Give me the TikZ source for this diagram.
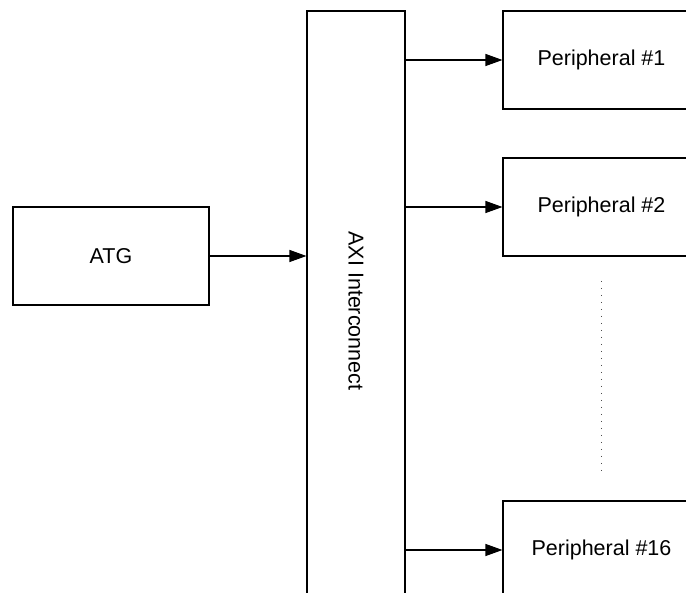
\documentclass[tikz,border=0pt]{standalone}
\usepackage{fontspec}
\setmainfont{Liberation Sans}
\usetikzlibrary{arrows.meta}

\tikzset{
  block/.style={draw=black, line width=1.1pt, fill=white, inner sep=0pt,
                font=\fontsize{21.5pt}{25pt}\selectfont, align=center},
  wide/.style={block, minimum width=197pt, minimum height=98pt},
  tall/.style={block, minimum width=98pt, minimum height=600pt},
  link/.style={draw=black, line width=1.1pt, -{Triangle[length=17pt,width=12pt]}},
  gap/.style={draw=black!70, line width=1pt, dash pattern=on 1pt off 6pt}
}

\begin{document}
\begin{tikzpicture}[x=1pt, y=-1pt]
  \useasboundingbox (0,0) rectangle (686,593);
  \clip (0,0) rectangle (686,593);

  % traffic generator and interconnect
  \node[wide, minimum width=196pt] (atg) at (111,256) {ATG};
  \node[tall] (axi) at (356,311) {};
  \node[rotate=-90, font=\fontsize{21.5pt}{25pt}\selectfont] (axilabel) at (356,311) {AXI Interconnect};

  % peripherals on the right
  \node[wide] (p1)  at (601.5,60)  {Peripheral \#1};
  \node[wide] (p2)  at (601.5,207) {Peripheral \#2};
  \node[wide] (p16) at (601.5,550) {Peripheral \#16};

  % elided peripherals
  \coordinate (dtop) at (601,281);
  \coordinate (dbot) at (601,472);
  \draw[gap] (dtop) -- (dbot);

  % connections
  \draw[link] (atg.east) -- (atg.east -| axi.west);
  \draw[link] (axi.east |- p1.west) -- (p1.west);
  \draw[link] (axi.east |- p2.west) -- (p2.west);
  \draw[link] (axi.east |- p16.west) -- (p16.west);
\end{tikzpicture}
\end{document}
